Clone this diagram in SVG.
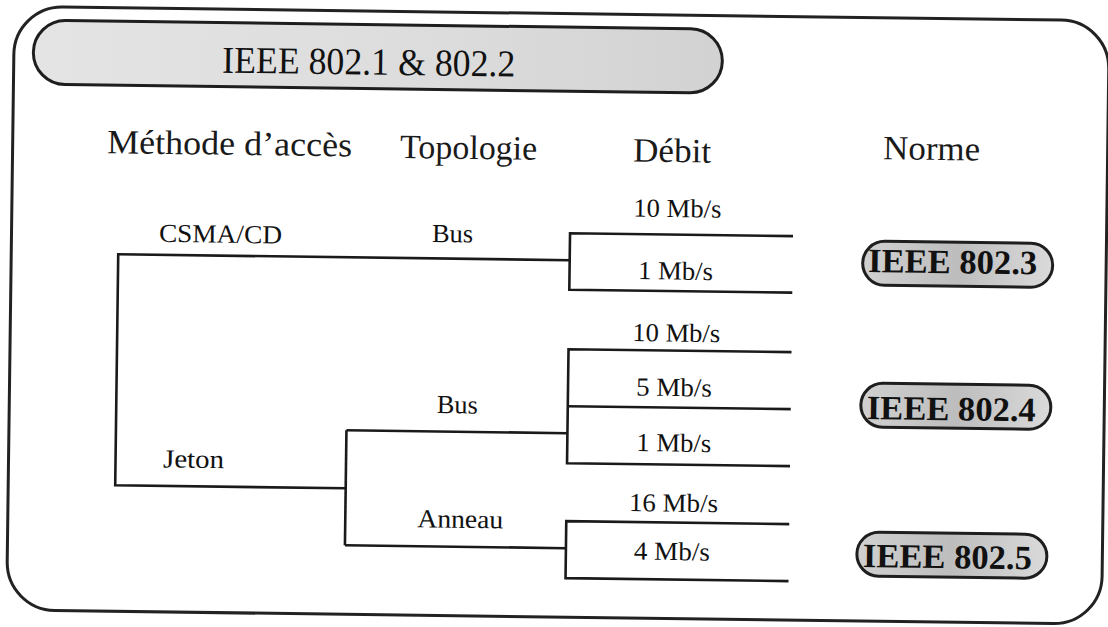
<svg xmlns="http://www.w3.org/2000/svg" width="1108" height="627" viewBox="0 0 1108 627">
  <defs>
    <linearGradient id="gTitle" x1="0" y1="0" x2="1" y2="0">
      <stop offset="0" stop-color="#e4e4e4"/>
      <stop offset="0.6" stop-color="#dcdcdc"/>
      <stop offset="1" stop-color="#d2d2d2"/>
    </linearGradient>
    <linearGradient id="gNorm" x1="0" y1="0" x2="1" y2="0">
      <stop offset="0" stop-color="#d0d0d0"/>
      <stop offset="0.5" stop-color="#bdbdbd"/>
      <stop offset="1" stop-color="#dadada"/>
    </linearGradient>
    <style>
      .frame{fill:#ffffff;stroke:#222;stroke-width:3}
      .pill{stroke:#1e1e1e;stroke-width:3}
      .ln{fill:none;stroke:#1a1a1a;stroke-width:2.6;stroke-linecap:butt;stroke-linejoin:miter}
      .hdr{font-family:"Liberation Serif","Times New Roman",serif;font-size:34px;fill:#1a1a1a}
      .lbl{font-family:"Liberation Serif","Times New Roman",serif;font-size:26px;fill:#111}
      .ttl{font-family:"Liberation Serif","Times New Roman",serif;font-size:38px;fill:#111}
      .nrm{font-family:"Liberation Serif","Times New Roman",serif;font-size:34px;font-weight:bold;fill:#111}
    </style>
  </defs>
  <rect width="1108" height="627" fill="#ffffff"/>
  <g transform="rotate(0.75 554 313)">
    <g id="frame">
      <rect class="frame" x="10.5" y="13.5" width="1095" height="603.5" rx="48" ry="48"/>
    </g>
    <g id="title">
      <rect class="pill" x="30" y="27" width="689" height="64" rx="32" ry="32" fill="url(#gTitle)"/>
      <text class="ttl" x="219" y="77" textLength="293" lengthAdjust="spacingAndGlyphs">IEEE 802.1 &amp; 802.2</text>
    </g>
    <g id="headers">
      <text class="hdr" x="105" y="159" textLength="245" lengthAdjust="spacingAndGlyphs">Méthode d’accès</text>
      <text class="hdr" x="398" y="160" textLength="137" lengthAdjust="spacingAndGlyphs">Topologie</text>
      <text class="hdr" x="631" y="160.5" textLength="78" lengthAdjust="spacingAndGlyphs">Débit</text>
      <text class="hdr" x="881" y="155" textLength="97" lengthAdjust="spacingAndGlyphs">Norme</text>
    </g>
    <g id="connectors">
      <path class="ln" d="M117.5 260 H569"/>
      <path class="ln" d="M117.5 258.7 V491 H348"/>
      <path class="ln" d="M348 433 V548"/>
      <path class="ln" d="M348 433 H569"/>
      <path class="ln" d="M348 548 H569"/>
      <path class="ln" d="M792 233 H569 V289.5 H792"/>
      <path class="ln" d="M792 349 H569 V463 H792"/>
      <path class="ln" d="M569 406 H792"/>
      <path class="ln" d="M792 521 H569 V578 H792"/>
    </g>
    <g id="csma"><text class="lbl" x="158" y="247" textLength="123" lengthAdjust="spacingAndGlyphs">CSMA/CD</text></g>
    <g id="jeton"><text class="lbl" x="165" y="472.5" textLength="61" lengthAdjust="spacingAndGlyphs">Jeton</text></g>
    <g id="bus1"><text class="lbl" x="431" y="243.5" textLength="41" lengthAdjust="spacingAndGlyphs">Bus</text></g>
    <g id="bus2"><text class="lbl" x="438" y="414.5" textLength="41" lengthAdjust="spacingAndGlyphs">Bus</text></g>
    <g id="anneau"><text class="lbl" x="420" y="529" textLength="86" lengthAdjust="spacingAndGlyphs">Anneau</text></g>
    <g id="d10a"><text class="lbl" x="632" y="215.5" textLength="88" lengthAdjust="spacingAndGlyphs">10 Mb/s</text></g>
    <g id="d1a"><text class="lbl" x="637.5" y="278" textLength="75" lengthAdjust="spacingAndGlyphs">1 Mb/s</text></g>
    <g id="d10b"><text class="lbl" x="632.5" y="340" textLength="88" lengthAdjust="spacingAndGlyphs">10 Mb/s</text></g>
    <g id="d5"><text class="lbl" x="637" y="394.5" textLength="76" lengthAdjust="spacingAndGlyphs">5 Mb/s</text></g>
    <g id="d1b"><text class="lbl" x="638" y="450" textLength="75" lengthAdjust="spacingAndGlyphs">1 Mb/s</text></g>
    <g id="d16"><text class="lbl" x="631.5" y="510" textLength="89" lengthAdjust="spacingAndGlyphs">16 Mb/s</text></g>
    <g id="d4"><text class="lbl" x="637" y="558.5" textLength="76" lengthAdjust="spacingAndGlyphs">4 Mb/s</text></g>
    <g id="ieee8023">
      <rect class="pill" x="862" y="237" width="190" height="44" rx="22" ry="22" fill="url(#gNorm)"/>
      <text class="nrm" x="867.5" y="268" textLength="169" lengthAdjust="spacingAndGlyphs">IEEE 802.3</text>
    </g>
    <g id="ieee8024">
      <rect class="pill" x="862" y="379" width="190" height="44" rx="22" ry="22" fill="url(#gNorm)"/>
      <text class="nrm" x="868" y="415" textLength="169" lengthAdjust="spacingAndGlyphs">IEEE 802.4</text>
    </g>
    <g id="ieee8025">
      <rect class="pill" x="860" y="528" width="190" height="44" rx="22" ry="22" fill="url(#gNorm)"/>
      <text class="nrm" x="866" y="563" textLength="169" lengthAdjust="spacingAndGlyphs">IEEE 802.5</text>
    </g>
  </g>
</svg>
